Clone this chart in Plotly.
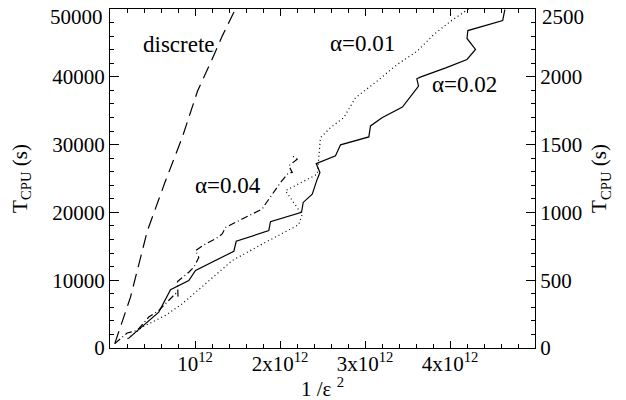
import plotly.graph_objects as go

# x in units of 1e12 (1/eps^2), y in seconds (T_CPU)
discrete_x = [0.056, 0.241, 0.44, 0.653, 0.849, 1.03, 1.20, 1.32, 1.476]
discrete_y = [650, 7500, 17300, 24660, 31030, 37900, 42560, 46000, 50000]

a001_x = [0.206, 0.38, 0.653, 0.85, 1.10, 1.437, 1.83, 2.22, 2.26, 2.064, 2.44, 2.455,
          2.476, 2.594, 2.75, 2.888, 3.143, 3.379, 3.614, 3.81, 4.006, 4.218]
a001_y = [1350, 3090, 4810, 6530, 9220, 12900, 15590, 18190, 19660, 23200, 25650, 28590,
          31030, 32500, 33970, 36910, 39370, 41820, 43780, 46240, 48190, 50000]

a002_x = [0.214, 0.574, 0.712, 0.927, 1.006, 1.457, 1.485, 1.868, 1.888, 2.253, 2.273,
          2.379, 2.438, 2.47, 2.426, 2.653, 2.712, 3.045, 3.065, 3.20, 3.44, 3.63, 3.61,
          3.65, 3.95, 4.20, 4.30, 4.20, 4.21, 4.62, 4.645]
a002_y = [1380, 5290, 8590, 9960, 11430, 14270, 15740, 17310, 18630, 20000, 21470,
          22700, 24900, 25880, 27200, 28340, 29960, 31130, 32750, 33970, 35540, 38630, 39700,
          39950, 41320, 42560, 44030, 45650, 46820, 48290, 49910]

a004_x = [0.056, 0.202, 0.32, 0.456, 0.574, 0.771, 0.80, 0.794, 0.927, 0.986, 1.045, 1.006,
          1.124, 1.241, 1.32, 1.359, 1.555, 1.633, 1.791, 1.829, 1.908, 2.006, 2.10, 2.144,
          2.104, 2.202, 2.144]
a004_y = [650, 2210, 2600, 4560, 5540, 8040, 7600, 9810, 11180, 11910, 13340, 14370,
          15350, 16090, 16820, 17790, 19030, 19510, 20500, 21240, 22710, 24410, 25840, 25880,
          26870, 27850, 28340]

x_tickvals = [1, 2, 3, 4]
x_ticktext = ["10<sup>12</sup>", "2x10<sup>12</sup>", "3x10<sup>12</sup>", "4x10<sup>12</sup>"]
x_title = "1 /ε <sup>2</sup>"
y_tickvals = [0, 10000, 20000, 30000, 40000, 50000]
y_ticktext = ["0", "10000", "20000", "30000", "40000", "50000"]
y2_tickvals = [0, 500, 1000, 1500, 2000, 2500]
y2_ticktext = ["0", "500", "1000", "1500", "2000", "2500"]

labels = ["discrete", "α=0.01", "α=0.02", "α=0.04"]
label_x = [0.806, 2.97, 4.17, 1.394]
label_y = [44800, 44840, 38880, 23930]

FONT = "Liberation Serif"
lw = 1.2

fig = go.Figure()
fig.add_trace(go.Scatter(x=discrete_x, y=discrete_y, mode="lines",
                         line=dict(color="black", width=lw, dash="13px,7px")))
fig.add_trace(go.Scatter(x=a001_x, y=a001_y, mode="lines",
                         line=dict(color="black", width=lw, dash="1px,3px")))
fig.add_trace(go.Scatter(x=a002_x, y=a002_y, mode="lines",
                         line=dict(color="black", width=lw)))
fig.add_trace(go.Scatter(x=a004_x, y=a004_y, mode="lines",
                         line=dict(color="black", width=lw, dash="7px,3px,1px,3px")))
fig.add_trace(go.Scatter(x=[0], y=[0], yaxis="y2", mode="markers",
                         marker=dict(opacity=0), hoverinfo="skip"))

for t, lx, ly in zip(labels, label_x, label_y):
    fig.add_annotation(x=lx, y=ly, text=t, showarrow=False,
                       font=dict(family=FONT, size=23, color="black"))

# top tick labels sit a little below their ticks, as in the reference
fig.add_annotation(x=0, xref="paper", y=y_tickvals[-1], yref="y", text=y_ticktext[-1],
                   xanchor="right", yanchor="middle", xshift=-5, yshift=-8, showarrow=False,
                   font=dict(family=FONT, size=21, color="black"))
fig.add_annotation(x=1, xref="paper", y=y2_tickvals[-1], yref="y2", text=y2_ticktext[-1],
                   xanchor="left", yanchor="middle", xshift=5, yshift=-8, showarrow=False,
                   font=dict(family=FONT, size=21, color="black"))
# x-axis title
fig.add_annotation(x=0.5, xref="paper", y=0, yref="paper", text=x_title,
                   xanchor="center", yanchor="middle", yshift=-39, showarrow=False,
                   font=dict(family=FONT, size=21, color="black"))

common = dict(ticks="inside", tickwidth=1, tickcolor="black",
              showline=True, linecolor="black", linewidth=1,
              showgrid=False, zeroline=False, automargin=False,
              ticklabeloverflow="allow", tickfont=dict(family=FONT, size=21, color="black"))

# The page body adds an 8px offset, so the figure is sized 8px smaller than the window.
fig.update_layout(
    width=618, height=392,
    margin=dict(l=102, r=91, t=1, b=52, autoexpand=False),
    paper_bgcolor="white", plot_bgcolor="white",
    showlegend=False,
    font=dict(family=FONT, size=21, color="black"),
    xaxis=dict(range=[0, 5], tickvals=x_tickvals, ticktext=x_ticktext, ticklen=7,
               mirror="ticks", ticklabelstandoff=-3,
               minor=dict(dtick=0.2, ticks="inside", ticklen=4, tickcolor="black", showgrid=False),
               **common),
    yaxis=dict(range=[0, 50000], tickvals=y_tickvals, ticktext=y_ticktext[:-1] + [""], ticklen=9,
               minor=dict(dtick=2000, ticks="inside", ticklen=4, tickcolor="black", showgrid=False),
               title=dict(text="T<sub>CPU</sub> (s)", standoff=23,
                          font=dict(family=FONT, size=21)),
               **common),
    yaxis2=dict(range=[0, 2500], tickvals=y2_tickvals, ticktext=y2_ticktext[:-1] + [""],
                overlaying="y", side="right", ticklen=9,
                minor=dict(dtick=100, ticks="inside", ticklen=4, tickcolor="black", showgrid=False),
                title=dict(text="T<sub>CPU</sub> (s)", standoff=10,
                           font=dict(family=FONT, size=21)),
                **common),
)

fig.write_html("out.html")
